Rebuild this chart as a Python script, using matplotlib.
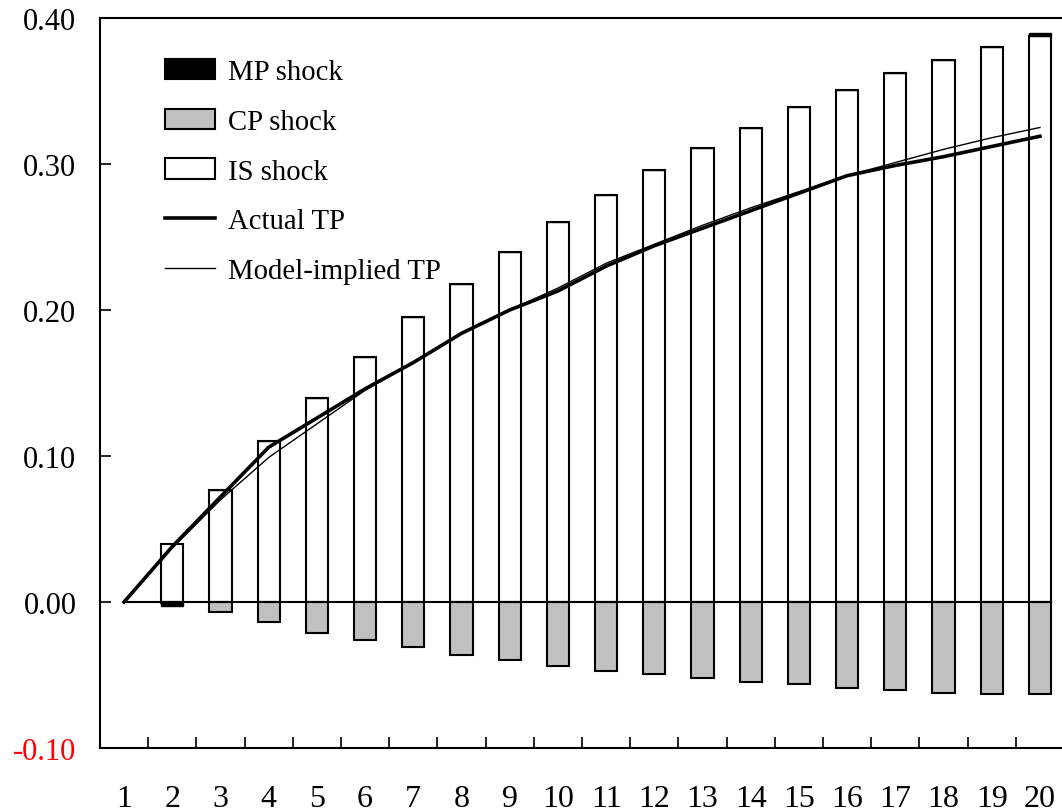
import matplotlib
matplotlib.use("Agg")
import matplotlib.pyplot as plt
from matplotlib.patches import Patch
from matplotlib.lines import Line2D
import numpy as np

plt.rcParams['font.family'] = ['Liberation Serif', 'DejaVu Serif']

periods = list(range(1, 21))
is_shock = [0.0, 0.040, 0.077, 0.110, 0.140, 0.168, 0.195, 0.218, 0.240, 0.260,
            0.279, 0.296, 0.311, 0.325, 0.339, 0.351, 0.362, 0.371, 0.380, 0.388]
cp_shock = [0.0, -0.0005, -0.007, -0.014, -0.021, -0.026, -0.031, -0.036, -0.040, -0.044,
            -0.047, -0.049, -0.052, -0.055, -0.056, -0.059, -0.060, -0.062, -0.063, -0.063]
mp_shock = [0.0, -0.002, 0.0, 0.0, 0.0, 0.0, 0.0, 0.0, 0.0, 0.0,
            0.0, 0.0, 0.0, 0.0, 0.0, 0.0, 0.0, 0.0, 0.0, 0.002]
actual_tp = [0.0, 0.038, 0.072, 0.106, 0.126, 0.146, 0.164, 0.184, 0.200, 0.213,
             0.230, 0.244, 0.256, 0.268, 0.280, 0.292, 0.299, 0.305, 0.312, 0.319]
model_tp = [0.0, 0.037, 0.070, 0.099, 0.122, 0.145, 0.164, 0.184, 0.200, 0.215,
            0.232, 0.245, 0.258, 0.270, 0.281, 0.292, 0.301, 0.310, 0.318, 0.325]
ytick_vals = [-0.10, 0.0, 0.10, 0.20, 0.30, 0.40]
ytick_labels = ['-0.10', '0.00', '0.10', '0.20', '0.30', '0.40']

W, H = 1062, 812
fig = plt.figure(figsize=(W / 100, H / 100), dpi=100)
ax = fig.add_axes([100 / W, (H - 749) / H, 964 / W, (749 - 19) / H])

x = np.array(periods, dtype=float)
is_arr = np.array(is_shock)
cp_arr = np.array(cp_shock)
mp_arr = np.array(mp_shock)
bw = 0.46
mask = x > 1

ax.bar(x[mask], is_arr[mask], width=bw, color='white', edgecolor='black', linewidth=1.5, zorder=2)
ax.bar(x[mask], cp_arr[mask], width=bw, color='#C0C0C0', edgecolor='black', linewidth=1.5, zorder=2)
mp_base = np.where(mp_arr >= 0, is_arr, cp_arr)
ax.bar(x[mask], mp_arr[mask], bottom=mp_base[mask], width=bw, color='black',
       edgecolor='black', linewidth=1.0, zorder=2)

ax.hlines(0, x[0], x[-1] + bw / 2, color='black', linewidth=1.5, zorder=3)

ax.plot(x, actual_tp, color='black', linewidth=2.6, zorder=4)
ax.plot(x, model_tp, color='black', linewidth=1.0, zorder=5)

ax.set_xlim(0.5, 20.5)
ax.set_ylim(-0.10, 0.40)

ax.set_yticks(ytick_vals)
ax.set_yticklabels(ytick_labels)
ax.get_yticklabels()[0].set_color('red')
ax.tick_params(axis='y', direction='in', length=8, width=1.2, pad=17, labelsize=22)

ax.set_xticks(x)
ax.set_xticklabels([str(p) for p in periods])
ax.set_xticks(x[:-1] + 0.5, minor=True)
ax.tick_params(axis='x', which='major', length=0, pad=26, labelsize=23)
ax.tick_params(axis='x', which='minor', direction='in', length=8, width=1.2)

for s in ['left', 'bottom', 'top']:
    ax.spines[s].set_linewidth(1.5)
ax.spines['right'].set_visible(False)

handles = [
    Patch(facecolor='black', edgecolor='black', linewidth=1.5),
    Patch(facecolor='#C0C0C0', edgecolor='black', linewidth=1.5),
    Patch(facecolor='white', edgecolor='black', linewidth=1.5),
    Line2D([0], [0], color='black', linewidth=2.6),
    Line2D([0], [0], color='black', linewidth=1.0),
]
labels = ['MP shock', 'CP shock', 'IS shock', 'Actual TP', 'Model-implied TP']
fig.legend(handles, labels, loc='upper left', bbox_to_anchor=(165 / W, 1 - 60 / H),
           frameon=False, fontsize=20.7, handlelength=1.75, handletextpad=0.45,
           labelspacing=0.82, borderpad=0, borderaxespad=0)

fig.savefig('out.png', dpi=100)
